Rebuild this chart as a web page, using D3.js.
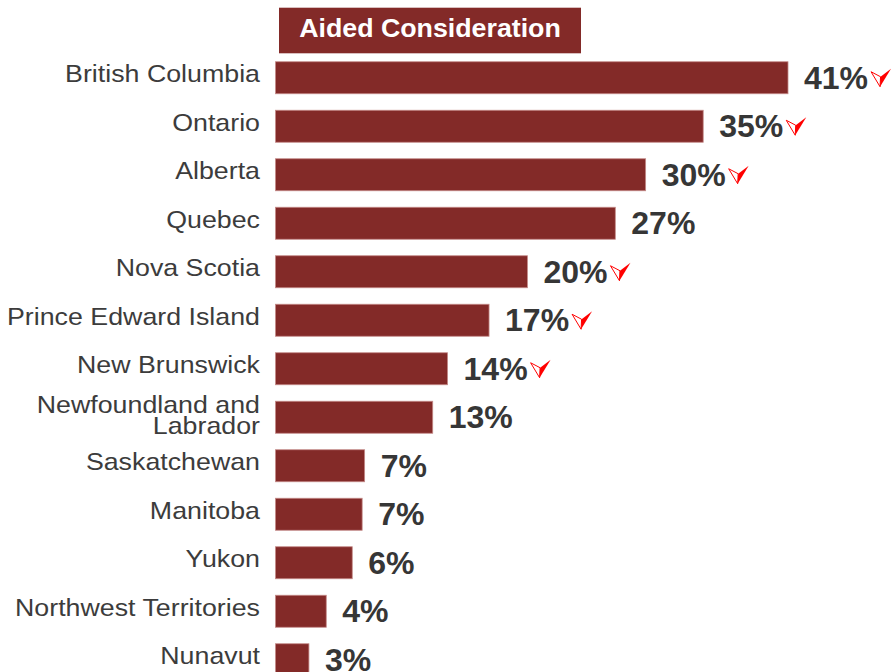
<!DOCTYPE html>
<html>
<head>
<meta charset="utf-8">
<script src="https://cdn.jsdelivr.net/npm/d3@7"></script>
<style>
  html, body { margin: 0; padding: 0; background: #fff; }
  svg { display: block; font-family: 'Liberation Sans', Arial, sans-serif; }
</style>
</head>
<body>
<svg id="chart" width="891" height="672"></svg>
<script>
// provinces, top to bottom
const provinces = ['British Columbia', 'Ontario', 'Alberta', 'Quebec', 'Nova Scotia',
  'Prince Edward Island', 'New Brunswick', 'Newfoundland and Labrador', 'Saskatchewan',
  'Manitoba', 'Yukon', 'Northwest Territories', 'Nunavut']
// bar lengths (%)
const values = [41.4, 34.55, 29.9, 27.45, 20.35, 17.25, 13.9, 12.7, 7.2, 7.0, 6.2, 4.1, 2.7]
// printed labels
const labels = ['41%', '35%', '30%', '27%', '20%', '17%', '14%', '13%', '7%', '7%', '6%', '4%', '3%']
// red "down" markers next to the value
const down = [true, true, true, false, true, true, true, false, false, false, false, false, false]
const title = 'Aided Consideration'

const data = provinces.map((p, i) => ({name: p, value: values[i], label: labels[i], down: down[i]}))

const barColor = '#832a28'
const svg = d3.select('#chart')

const x = d3.scaleLinear()
  .domain([0, 41.4])
  .range([275.5, 788])

const y = d3.scaleBand()
  .domain(provinces)
  .range([53.5, 684])
  .paddingInner(0.34)
  .paddingOuter(0.17)

// title box
svg.append('rect')
  .attr('x', 279).attr('y', 7.7)
  .attr('width', 302).attr('height', 45.6)
  .attr('fill', barColor)
svg.append('text')
  .attr('transform', 'translate(430,37.3) scale(1.05,1)')
  .attr('text-anchor', 'middle')
  .attr('font-size', 25.5)
  .attr('font-weight', 'bold')
  .attr('fill', '#fff')
  .text(title)

// bars
svg.append('g')
  .selectAll('rect')
  .data(data)
  .join('rect')
    .attr('x', x(0))
    .attr('y', d => y(d.name))
    .attr('width', d => x(d.value) - x(0))
    .attr('height', y.bandwidth())
    .attr('fill', barColor)
    .attr('stroke', '#c48a88')
    .attr('stroke-width', 0.8)

// category labels (slightly wide text in the original)
const cat = svg.append('g')
  .selectAll('g')
  .data(data)
  .join('g')
    .attr('transform', d => `translate(260,${y(d.name) + y.bandwidth() / 2}) scale(1.125,1)`)

cat.each(function(d) {
  const g = d3.select(this)
  const t = g.append('text')
    .attr('text-anchor', 'end')
    .attr('font-size', 23.8)
    .attr('fill', '#3c3c3c')
  if (d.name === 'Newfoundland and Labrador') {
    t.append('tspan').attr('x', 0).attr('y', -3.8).text('Newfoundland and')
    t.append('tspan').attr('x', 0).attr('y', 16.3).text('Labrador')
  } else {
    t.attr('x', 0).attr('y', 4.5).text(d.name)
  }
})

// value labels
const vals = svg.append('g')
  .selectAll('text')
  .data(data)
  .join('text')
    .attr('x', d => x(d.value) + 16)
    .attr('y', d => y(d.name) + y.bandwidth() / 2 + 11)
    .attr('font-size', 32)
    .attr('font-weight', 'bold')
    .attr('fill', '#363636')
    .text(d => d.label)

// down arrows
vals.each(function(d) {
  if (!d.down) return
  const end = x(d.value) + 16 + this.getComputedTextLength() + 3
  const cy = y(d.name) + y.bandwidth() / 2
  const g = svg.append('g').attr('transform', `translate(${end},${cy - 9})`)
  g.append('path')
    .attr('d', 'M0,3 L9.5,8 L9,18 Z')
    .attr('fill', '#fff')
    .attr('stroke', '#ff0000')
    .attr('stroke-width', 1)
    .attr('stroke-linejoin', 'round')
  g.append('path')
    .attr('d', 'M9.5,8 L20,0 L9,18 Z')
    .attr('fill', '#ff0000')
})
</script>
</body>
</html>
